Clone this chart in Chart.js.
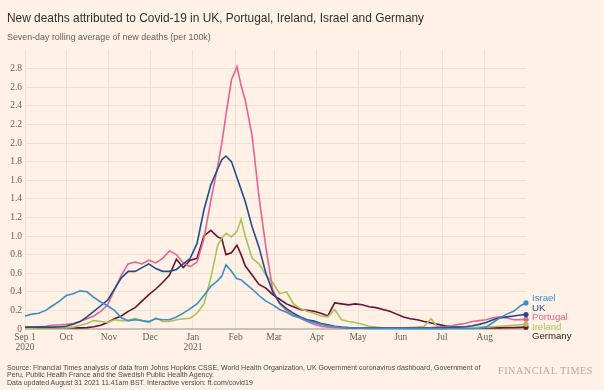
<!DOCTYPE html>
<html>
<head>
<meta charset="utf-8">
<script src="https://cdn.jsdelivr.net/npm/chart.js@4.4.0/dist/chart.umd.min.js"></script>
<style>
html,body{margin:0;padding:0;background:#fff1e5;}
#wrap{position:relative;width:604px;height:390px;overflow:hidden;background:#fff1e5;font-family:"Liberation Sans",Arial,sans-serif;}
#title{position:absolute;left:7px;top:11px;font-size:11.9px;color:#33302e;white-space:nowrap;}
#sub{position:absolute;left:7px;top:32px;font-size:8.9px;color:#66605c;white-space:nowrap;}
#foot{position:absolute;left:7px;top:364px;font-size:7px;line-height:7.3px;color:#4d4845;white-space:nowrap;}
#logo{position:absolute;left:498px;top:365px;font-family:"Liberation Serif","Times New Roman",serif;font-size:10.2px;letter-spacing:0.5px;color:#b3aaa2;white-space:nowrap;}
canvas{position:absolute;left:0;top:0;}
</style>
</head>
<body>
<div id="wrap">
<canvas id="c" width="604" height="390"></canvas>
<div id="title">New deaths attributed to Covid-19 in UK, Portugal, Ireland, Israel and Germany</div>
<div id="sub">Seven-day rolling average of new deaths (per 100k)</div>
<div id="foot">Source: Financial Times analysis of data from Johns Hopkins CSSE, World Health Organization, UK Government coronavirus dashboard, Government of<br>Peru, Public Health France and the Swedish Public Health Agency.<br>Data updated August 31 2021 11.41am BST. Interactive version: ft.com/covid19</div>
<div id="logo">FINANCIAL TIMES</div>
</div>
<script>
// day index since Sep 1 2020
const days = [0,5,10,15,20,25,30,35,40,45,50,55,60,65,70,75,80,85,90,95,100,105,110,115,120,125,130,135,140,143,146,150,154,157,160,165,170,175,180,185,190,195,200,205,210,215,220,225,230,235,240,245,250,255,260,265,270,275,280,285,290,295,300,305,310,315,320,325,330,335,340,345,350,355,360,364];

const israel = [0.14,0.16,0.17,0.20,0.25,0.30,0.36,0.38,0.41,0.40,0.34,0.29,0.25,0.20,0.12,0.09,0.10,0.09,0.08,0.11,0.10,0.10,0.13,0.17,0.22,0.27,0.36,0.46,0.52,0.57,0.69,0.62,0.54,0.53,0.49,0.43,0.36,0.30,0.26,0.21,0.18,0.14,0.12,0.09,0.07,0.05,0.035,0.025,0.015,0.01,0.01,0.008,0.006,0.005,0.005,0.005,0.005,0.004,0.004,0.004,0.004,0.004,0.004,0.004,0.005,0.005,0.005,0.006,0.008,0.02,0.07,0.12,0.16,0.19,0.25,0.28];

const uk = [0.02,0.02,0.02,0.02,0.02,0.025,0.03,0.05,0.08,0.13,0.19,0.25,0.31,0.43,0.55,0.62,0.62,0.66,0.70,0.65,0.62,0.62,0.64,0.70,0.76,0.92,1.28,1.55,1.72,1.82,1.86,1.80,1.63,1.50,1.37,1.10,0.88,0.60,0.40,0.28,0.22,0.17,0.13,0.10,0.085,0.06,0.045,0.03,0.02,0.015,0.012,0.01,0.01,0.01,0.01,0.01,0.01,0.01,0.01,0.01,0.01,0.01,0.012,0.015,0.018,0.02,0.025,0.035,0.05,0.07,0.10,0.12,0.13,0.14,0.15,0.155];

const portugal = [0.02,0.02,0.025,0.03,0.04,0.045,0.05,0.06,0.08,0.11,0.14,0.19,0.26,0.42,0.58,0.70,0.72,0.70,0.74,0.71,0.76,0.84,0.80,0.71,0.67,0.72,0.97,1.38,1.75,2.00,2.30,2.68,2.82,2.62,2.46,2.08,1.42,0.88,0.42,0.27,0.20,0.15,0.115,0.08,0.05,0.03,0.02,0.015,0.012,0.01,0.01,0.01,0.01,0.01,0.01,0.01,0.01,0.01,0.01,0.01,0.012,0.015,0.02,0.025,0.035,0.05,0.06,0.08,0.09,0.10,0.12,0.13,0.12,0.10,0.10,0.105];

const ireland = [0.005,0.008,0.01,0.01,0.01,0.01,0.012,0.02,0.04,0.06,0.09,0.08,0.07,0.10,0.09,0.09,0.115,0.09,0.07,0.12,0.08,0.08,0.10,0.11,0.115,0.17,0.27,0.55,0.90,0.98,1.03,0.99,1.05,1.18,1.00,0.76,0.70,0.58,0.50,0.38,0.40,0.27,0.22,0.19,0.17,0.14,0.13,0.21,0.10,0.08,0.07,0.05,0.03,0.02,0.012,0.01,0.01,0.01,0.015,0.02,0.03,0.11,0.02,0.015,0.015,0.015,0.015,0.015,0.02,0.02,0.025,0.03,0.035,0.04,0.045,0.05];

const germany = [0.01,0.01,0.01,0.01,0.01,0.01,0.01,0.01,0.012,0.015,0.025,0.04,0.07,0.11,0.14,0.19,0.23,0.30,0.37,0.43,0.50,0.58,0.75,0.66,0.74,0.76,1.00,1.06,0.99,0.97,0.80,0.82,0.90,0.80,0.68,0.58,0.48,0.44,0.37,0.32,0.27,0.24,0.21,0.20,0.19,0.17,0.14,0.28,0.27,0.26,0.27,0.26,0.24,0.23,0.21,0.19,0.16,0.13,0.11,0.10,0.08,0.065,0.05,0.035,0.025,0.02,0.015,0.012,0.01,0.01,0.012,0.012,0.015,0.015,0.018,0.02];

const seriesNames = ["Israel","UK","Portugal","Ireland","Germany"];
const seriesValues = [israel, uk, portugal, ireland, germany];
const seriesColors = ["#3a8fc8","#1d4d8c","#e8648f","#a8c25c","#6b1030"];
const labelColors = ["#3a8fc8","#1d4d8c","#e8648f","#a8c25c","#3a2228"];

const monthTicks = [0,30,61,91,122,153,181,212,242,273,303,334];
const monthLabels = [["Sep 1","2020"],"Oct","Nov","Dec",["Jan","2021"],"Feb","Mar","Apr","May","Jun","Jul","Aug"];
const yTicks = [0,0.2,0.4,0.6,0.8,1.0,1.2,1.4,1.6,1.8,2.0,2.2,2.4,2.6,2.8];
const yTickLabels = ["0","0.2","0.4","0.6","0.8","1.0","1.2","1.4","1.6","1.8","2.0","2.2","2.4","2.6","2.8"];

const datasets = seriesNames.map((name, k) => ({
  label: name,
  data: days.map((d, i) => ({x: d, y: seriesValues[k][i]})),
  borderColor: seriesColors[k],
  backgroundColor: seriesColors[k],
  borderWidth: 1.6,
  tension: 0,
  clip: false,
  pointRadius: ctx => ctx.dataIndex === days.length - 1 ? 2.6 : 0,
  pointHoverRadius: 0,
  pointBorderWidth: 0
}));

const endLabels = {
  id: 'endLabels',
  afterDatasetsDraw(chart) {
    const ctx = chart.ctx;
    const y = chart.scales.y;
    const items = seriesNames.map((n, k) => ({k, y: y.getPixelForValue(seriesValues[k][seriesValues[k].length - 1])}));
    items.sort((a, b) => a.y - b.y);
    const gap = 9.5;
    for (let it = 0; it < 200; it++) {
      for (let i = 0; i < items.length - 1; i++) {
        const d = items[i + 1].y - items[i].y;
        if (d < gap) {
          const s = (gap - d) / 2;
          items[i].y -= s; items[i + 1].y += s;
        }
      }
    }
    ctx.save();
    ctx.font = '9.6px "Liberation Sans", Arial, sans-serif';
    ctx.textBaseline = 'middle';
    ctx.textAlign = 'left';
    const x = chart.scales.x.right + 6;
    items.forEach(it => {
      ctx.fillStyle = labelColors[it.k];
      ctx.fillText(seriesNames[it.k], x, it.y);
    });
    ctx.restore();
  }
};

new Chart(document.getElementById('c'), {
  type: 'line',
  data: { datasets },
  plugins: [endLabels],
  options: {
    responsive: false,
    animation: false,
    events: [],
    layout: { padding: { left: 0, right: 78, top: 50, bottom: 31 } },
    plugins: { legend: { display: false }, tooltip: { enabled: false } },
    scales: {
      x: {
        type: 'linear', min: 0, max: 364,
        afterBuildTicks: s => { s.ticks = monthTicks.map(v => ({value: v})); },
        afterFit: s => { s.height = 30; },
        ticks: {
          autoSkip: false, maxRotation: 0, padding: 3,
          color: '#66605c',
          font: { family: '"Liberation Serif", "Times New Roman", serif', size: 9.5, lineHeight: 1.1 },
          callback: (v, i) => monthLabels[i]
        },
        grid: { color: '#eee0d3', lineWidth: 1, drawTicks: false },
        border: { display: false }
      },
      y: {
        min: 0, max: 3.0,
        afterBuildTicks: s => { s.ticks = yTicks.map(v => ({value: v})); },
        afterFit: s => { s.width = 25; },
        ticks: {
          padding: 3, color: '#66605c',
          font: { family: '"Liberation Serif", "Times New Roman", serif', size: 9.5 },
          callback: (v, i) => yTickLabels[i]
        },
        grid: {
          color: ctx => ctx.tick && ctx.tick.value === 0 ? '#c9c0b7' : '#eee0d3',
          lineWidth: ctx => ctx.tick && ctx.tick.value === 0 ? 2 : 1,
          drawTicks: false
        },
        border: { display: false }
      }
    }
  }
});
</script>
</body>
</html>
